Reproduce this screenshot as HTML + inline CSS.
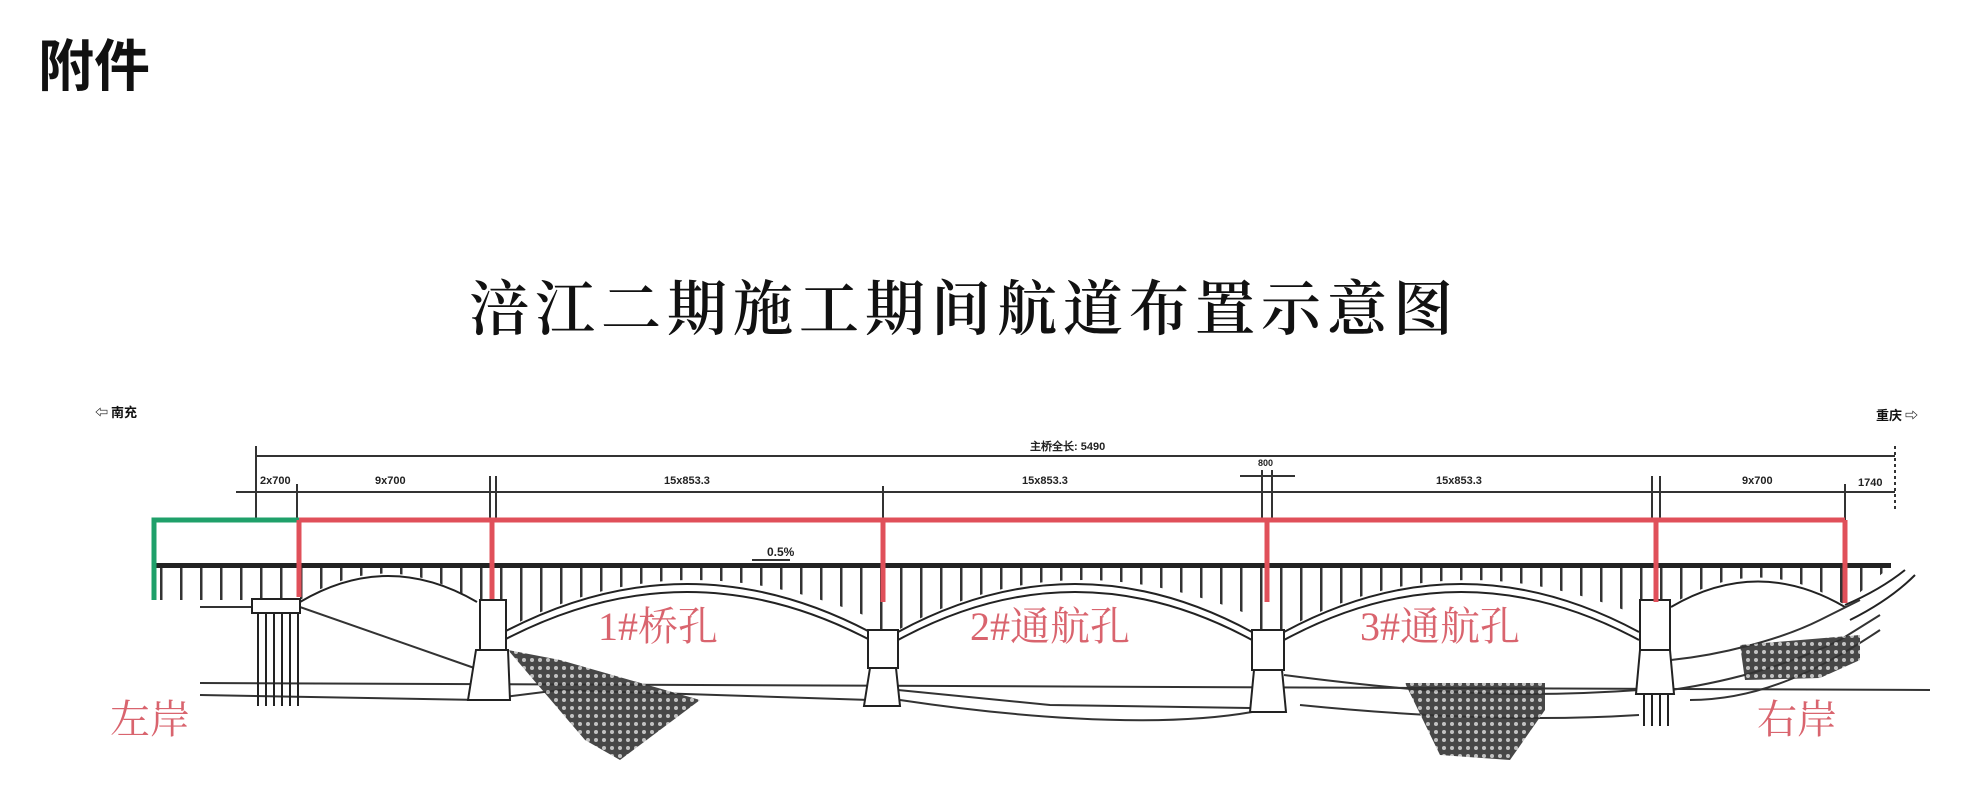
<!DOCTYPE html>
<html><head><meta charset="utf-8"><style>
html,body{margin:0;padding:0;background:#fff;}
body{width:1977px;height:805px;overflow:hidden;position:relative;}
svg{position:absolute;left:0;top:0;}
</style></head><body>
<svg width="1977" height="805" viewBox="0 0 1977 805" xmlns="http://www.w3.org/2000/svg">
<defs>
<pattern id="vs" width="20" height="40" patternUnits="userSpaceOnUse">
<rect x="0" y="0" width="2.5" height="40" fill="#333"/>
</pattern>
<pattern id="hatch" width="8" height="8" patternUnits="userSpaceOnUse">
<rect width="8" height="8" fill="#333"/>
<circle cx="4" cy="4" r="2" fill="#bbb"/>
</pattern>
</defs>
<text x="38" y="86" font-family="'Noto Sans CJK SC',sans-serif" font-weight="bold" font-size="56" fill="#111">附件</text>
<text x="469" y="330" font-family="'Noto Serif CJK SC',serif" font-weight="600" font-size="60" letter-spacing="6" fill="#111">涪江二期施工期间航道布置示意图</text>

<text x="95" y="417" font-family="'Noto Sans CJK SC',sans-serif" font-size="13" font-weight="bold" fill="#111">⇦ 南充</text>
<text x="1876" y="420" font-family="'Noto Sans CJK SC',sans-serif" font-size="13" font-weight="bold" fill="#111">重庆 ⇨</text>

<g stroke="#333" stroke-width="2" fill="none">
<line x1="256" y1="456" x2="1895" y2="456"/>
<line x1="236" y1="492" x2="1895" y2="492"/>
<line x1="256" y1="446" x2="256" y2="520"/>
<line x1="297" y1="484" x2="297" y2="520"/>
<line x1="490" y1="476" x2="490" y2="520"/>
<line x1="496" y1="476" x2="496" y2="520"/>
<line x1="883" y1="486" x2="883" y2="520"/>
<line x1="1262" y1="470" x2="1262" y2="520"/>
<line x1="1272" y1="470" x2="1272" y2="520"/>
<line x1="1240" y1="476" x2="1295" y2="476"/>
<line x1="1652" y1="476" x2="1652" y2="520"/>
<line x1="1660" y1="476" x2="1660" y2="520"/>
<line x1="1845" y1="484" x2="1845" y2="520"/>
<line x1="1895" y1="446" x2="1895" y2="512" stroke-dasharray="3,3"/>
</g>
<g font-family="'Liberation Sans',sans-serif" font-size="11" fill="#222" font-weight="bold">
<text x="1030" y="450">主桥全长: 5490</text>
<text x="260" y="484">2x700</text>
<text x="375" y="484">9x700</text>
<text x="664" y="484">15x853.3</text>
<text x="1022" y="484">15x853.3</text>
<text x="1436" y="484">15x853.3</text>
<text x="1742" y="484">9x700</text>
<text x="1858" y="486">1740</text>
<text x="1258" y="466" font-size="9">800</text>
<text x="767" y="556" font-size="12">0.5%</text>
</g>
<line x1="752" y1="560" x2="790" y2="560" stroke="#333" stroke-width="2"/>

<g fill="url(#vs)">
<path d="M154,566 L300,566 L300,600 L154,600 Z"/>
<path d="M300,566 L477,566 L477,602 Q388,546 300,600 Z"/>
<path d="M477,566 L898,566 L898,630 Q687,530 504,630 L477,630 Z"/>
<path d="M870,566 L1284,566 L1284,630 Q1075,530 898,630 L870,630 Z"/>
<path d="M1252,566 L1671,566 L1671,630 Q1461,530 1284,630 L1252,630 Z"/>
<path d="M1639,566 L1891,566 L1845,605 Q1758,550 1671,605 L1639,605 Z"/>
</g>
<rect x="154" y="563" width="1737" height="5" fill="#222"/>
<g fill="#fff" stroke="none">
<path d="M300,603 Q388,550 477,603 Z"/>
<path d="M504,633 Q687,536 870,633 Z"/>
<path d="M898,633 Q1075,536 1252,633 Z"/>
<path d="M1284,633 Q1461,536 1639,633 Z"/>
<path d="M1671,608 Q1758,556 1845,608 Z"/>
</g>
<g fill="none" stroke="#222" stroke-width="2">
<path d="M300,602 Q388,550 477,602"/>
<path d="M504,632 Q687,536 870,632"/>
<path d="M898,632 Q1075,536 1252,632"/>
<path d="M1284,632 Q1461,536 1639,632"/>
<path d="M1671,607 Q1758,556 1845,607"/>
<path d="M504,640 Q687,544 870,640"/>
<path d="M898,640 Q1075,544 1252,640"/>
<path d="M1284,640 Q1461,544 1639,640"/>
<path d="M1845,605 Q1880,590 1905,570"/>
<path d="M1850,620 Q1890,600 1915,575"/>
</g>

<g fill="none" stroke="#333" stroke-width="2">
<path d="M200,607 L300,607 L480,670"/>
<path d="M200,683 L1930,690"/>
<path d="M200,695 L480,700 L560,690 L870,700"/>
<path d="M898,690 L1050,705 L1250,708"/>
<path d="M900,700 C1000,715 1150,730 1252,712"/>
<path d="M1284,675 C1400,690 1500,700 1639,690"/>
<path d="M1300,705 C1450,720 1560,720 1639,715"/>
<path d="M1671,660 C1720,655 1780,640 1820,620 L1860,600"/>
<path d="M1671,690 C1740,680 1800,660 1840,640 L1880,615"/>
<path d="M1690,700 C1760,700 1820,670 1880,630"/>
</g>
<g fill="url(#hatch)" opacity="0.9">
<path d="M508,650 L560,660 L700,700 L620,760 L585,740 Z"/>
<path d="M1405,683 L1545,683 L1545,710 L1510,760 L1440,755 Z"/>
<path d="M1740,645 L1860,635 L1860,660 L1820,678 L1745,680 Z"/>
</g>

<g fill="#fff" stroke="#222" stroke-width="2">
<rect x="252" y="599" width="48" height="14"/>
<rect x="480" y="600" width="26" height="50"/>
<path d="M476,650 L508,650 L510,700 L468,700 Z"/>
<rect x="868" y="630" width="30" height="38"/>
<path d="M870,668 L896,668 L900,706 L864,706 Z"/>
<rect x="1252" y="630" width="32" height="40"/>
<path d="M1254,670 L1282,670 L1286,712 L1250,712 Z"/>
<rect x="1640" y="600" width="30" height="50"/>
<path d="M1640,650 L1670,650 L1674,694 L1636,694 Z"/>
</g>
<g stroke="#222" stroke-width="2">
<line x1="258" y1="613" x2="258" y2="706"/><line x1="266" y1="613" x2="266" y2="706"/>
<line x1="274" y1="613" x2="274" y2="706"/><line x1="282" y1="613" x2="282" y2="706"/>
<line x1="290" y1="613" x2="290" y2="706"/><line x1="298" y1="613" x2="298" y2="706"/>
<line x1="1644" y1="694" x2="1644" y2="726"/><line x1="1652" y1="694" x2="1652" y2="726"/>
<line x1="1660" y1="694" x2="1660" y2="726"/><line x1="1668" y1="694" x2="1668" y2="726"/>
</g>

<polyline points="154,600 154,520 299,520" fill="none" stroke="#1fa06a" stroke-width="5"/>
<g stroke="#e0505a" stroke-width="5" fill="none">
<line x1="299" y1="520" x2="1845" y2="520"/>
<line x1="299" y1="520" x2="299" y2="597"/>
<line x1="492" y1="520" x2="492" y2="599"/>
<line x1="883" y1="520" x2="883" y2="602"/>
<line x1="1267" y1="520" x2="1267" y2="602"/>
<line x1="1656" y1="520" x2="1656" y2="602"/>
<line x1="1845" y1="520" x2="1845" y2="603"/>
</g>

<g font-family="'Liberation Serif','Noto Serif CJK SC',serif" font-size="40" fill="#d9646e">
<text x="598" y="640">1#桥孔</text>
<text x="970" y="640">2#通航孔</text>
<text x="1360" y="640">3#通航孔</text>
<text x="110" y="733">左岸</text>
<text x="1757" y="733">右岸</text>
</g>
</svg>
</body></html>
